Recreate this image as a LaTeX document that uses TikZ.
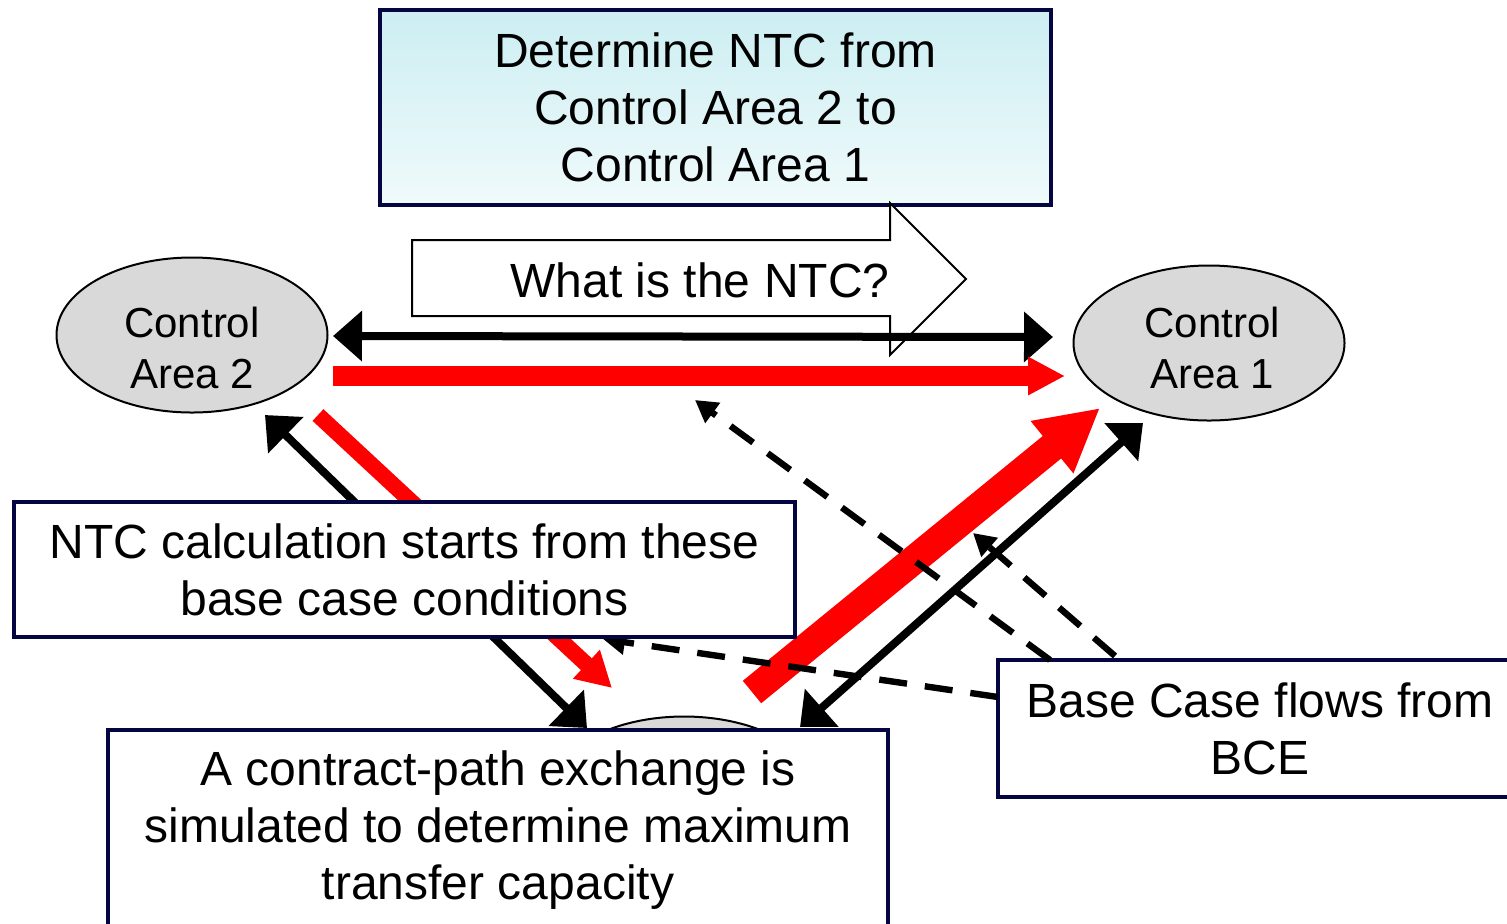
\documentclass[tikz,border=0pt]{standalone}
\usepackage{fontspec}
\setmainfont{Liberation Sans}
\usepackage{tikz}
\usetikzlibrary{positioning}
\usetikzlibrary{shapes.geometric}
\usetikzlibrary{arrows.meta}

\definecolor{marco}{RGB}{5,5,65}
\definecolor{gris}{RGB}{217,217,217}
\definecolor{cielo}{RGB}{204,238,242}
\definecolor{cieloclaro}{RGB}{240,250,251}

\begin{document}
\begin{tikzpicture}[x=0.5pt, y=-0.5pt,
    caja/.style={draw=marco, line width=2pt, fill=white, align=center, inner sep=0pt,
      font=\fontsize{24}{28.5}\selectfont},
    area/.style={draw, ellipse, fill=gris, line width=1pt, minimum width=135.5pt,
      minimum height=77.5pt, inner sep=0pt},
    areatxt/.style={align=center, inner sep=0pt, font=\fontsize{21}{25.5}\selectfont},
    negra/.style={line width=4pt, <->, >={Triangle[length=14.5pt,width=24.5pt]}},
    roja/.style={red, line width=10pt, ->, >={Triangle[length=18.5pt,width=18pt]}},
    rojafina/.style={red, line width=8pt, ->, >={Triangle[length=17.5pt,width=18.5pt]}},
    rojagruesa/.style={red, line width=14.5pt, ->, >={Triangle[length=31pt,width=31.5pt]}},
    base/.style={line width=3.2pt, dash pattern=on 14pt off 9pt, ->,
      >={Triangle[length=11pt,width=12pt]}}]
  \useasboundingbox (0,0) rectangle (1507,923);

  % Areas
  \node[area] (ca3) at (684,794) {};
  \node[area] (ca2) at (192,335) {};
  \node[areatxt] (ca2txt) at (192,348) {Control\\Area 2};
  \node[area] (ca1) at (1209,343) {};
  \node[areatxt] (ca1txt) at (1212,348) {Control\\Area 1};

  % Pregunta
  \node[caja, top color=cielo, bottom color=cieloclaro, minimum width=335.5pt, minimum height=97.5pt]
    (det) at (715.5,107.5) {Determine NTC from\\Control Area 2 to\\Control Area 1};
  \draw[fill=white, line width=1pt] (412,240) -- (890,240) -- (890,203) -- (966,279)
    -- (890,355) -- (890,316) -- (412,316) -- cycle;
  \node[font=\fontsize{24}{28.5}\selectfont, inner sep=0pt] (ntcq) at (700,280) {What is the NTC?};

  % Flujos
  \draw[negra] ([shift={(141,1)}]ca2.center) -- ([shift={(-156,-6)}]ca1.center);
  \draw[roja] ([shift={(141,41)}]ca2.center) -- ([shift={(-144,33)}]ca1.center);
  \draw[negra] ([shift={(73,80)}]ca2.center) -- ([shift={(-97,-66)}]ca3.center);
  \draw[rojafina] ([shift={(126,80)}]ca2.center) -- ([shift={(-72,-106)}]ca3.center);
  \draw[rojagruesa] ([shift={(68,-102)}]ca3.center) -- ([shift={(-109,65)}]ca1.center);
  \draw[negra] ([shift={(116,-67)}]ca3.center) -- ([shift={(-66,80)}]ca1.center);

  % Flujos de base
  \node[caja, minimum width=262pt, minimum height=68.5pt] (bce) at (1260,728.5)
    {Base Case flows from\\BCE};
  \coordinate (f12) at (695,400);
  \coordinate (f13) at (973,533);
  \coordinate (f23) at (603,639);
  \draw[base] ([shift={(-210,-68.5)}]bce.center) -- (f12);
  \draw[base] ([shift={(-145,-72.5)}]bce.center) -- (f13);
  \draw[base] ([shift={(-262,-31.5)}]bce.center) -- (f23);

  % Cajas
  \node[caja, minimum width=390.5pt, minimum height=67.5pt] (calc) at (404.5,569.5)
    {NTC calculation starts from these\\base case conditions};
  \node[caja, minimum width=390pt, minimum height=100pt] (sim) at (498,830)
    {A contract-path exchange is\\simulated to determine maximum\\transfer capacity};
\end{tikzpicture}
\end{document}
